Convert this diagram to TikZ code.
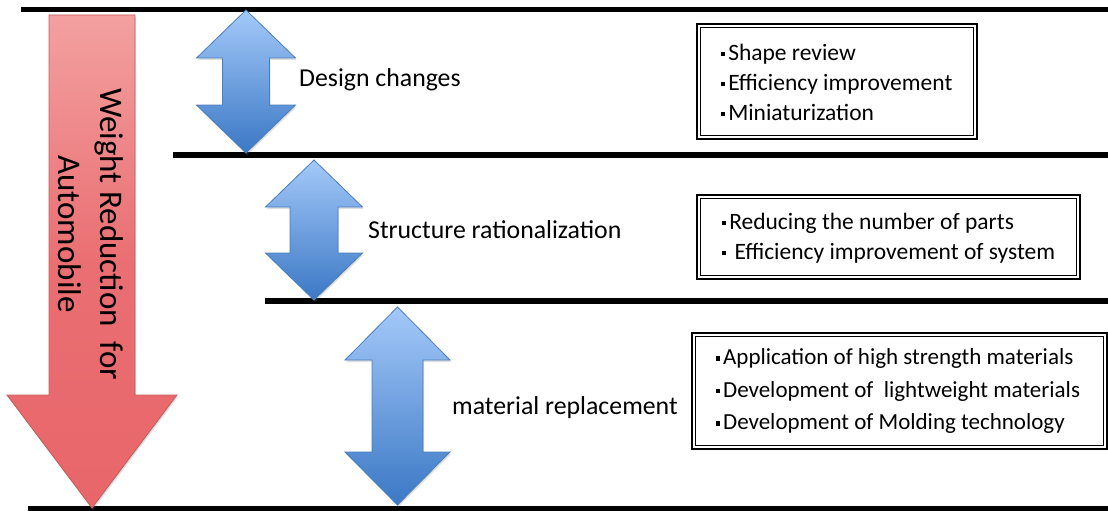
\documentclass[tikz,border=0pt]{standalone}
\usepackage{fontspec}
\setmainfont{Carlito}
\usetikzlibrary{shadows}
\definecolor{bluetop}{HTML}{A4C9F9}
\definecolor{bluebot}{HTML}{3B78C5}
\definecolor{blueedge}{HTML}{4A7EBB}
\definecolor{redtop}{HTML}{F3A0A0}
\definecolor{redbot}{HTML}{E8666A}
\definecolor{rededge}{HTML}{C0605E}
\newcommand{\bul}{\rule[0.17em]{0.18em}{0.18em}\hspace{0.12em}}
\newcommand{\dblarrow}[6]{% cx, top, bottom, headhalf, shafthalf, headh
  \path[bluearr] (#1,#2) -- (#1+#4,#2+#6) -- (#1+#5,#2+#6) -- (#1+#5,#3-#6)
    -- (#1+#4,#3-#6) -- (#1,#3) -- (#1-#4,#3-#6) -- (#1-#5,#3-#6)
    -- (#1-#5,#2+#6) -- (#1-#4,#2+#6) -- cycle;}
\begin{document}
\begin{tikzpicture}[x=1pt,y=-1pt,
  rulel/.style={line width=5.5pt,black},
  bluearr/.style={draw=blueedge,line width=0.8pt,top color=bluetop,bottom color=bluebot,
    drop shadow={opacity=0.25,shadow xshift=1pt,shadow yshift=-2pt}},
  redarr/.style={draw=rededge,line width=0.8pt,top color=redtop,bottom color=redbot,middle color=redbot!85!redtop,
    drop shadow={opacity=0.25,shadow xshift=1pt,shadow yshift=-2pt}},
  lbl/.style={anchor=west,inner sep=0pt,font=\fontsize{25.8}{30}\selectfont},
  boxtxt/.style={anchor=west,inner sep=0pt,align=left,font=\fontsize{23.5}{30}\selectfont},
  dbox/.style={draw,line width=2.2pt,inner sep=0pt}]
\useasboundingbox (0,0) rectangle (1108,511);
% horizontal rules
\draw[rulel] (21,9.5) -- (1108,9.5);
\draw[rulel] (173,155) -- (1108,155);
\draw[rulel] (265,301) -- (1108,301);
\draw[rulel] (28,508.5) -- (1108,508.5);
% red arrow
\path[redarr] (49,15) -- (135,15) -- (135,395) -- (177,395) -- (92,508) -- (7,395) -- (49,395) -- cycle;
\node[rotate=-90,align=center,font=\fontsize{33}{42}\selectfont] (wr) at (91,234)
  {Weight Reduction\ \ for\\Automobile};
% blue arrows
\dblarrow{246}{10}{153}{49.5}{23.5}{48}
\dblarrow{314}{160}{300}{48.5}{24}{47}
\dblarrow{397.5}{307}{505}{52.5}{25.5}{53}
% labels
\node[lbl] (l1) at (299,80) {Design changes};
\node[lbl] (l2) at (368,230) {Structure rationalization};
\node[lbl] (l3) at (452,408) {material replacement};
% boxes
\node[dbox,minimum width=280pt,minimum height=115pt] (b1) at (837,81.5) {};
\draw[line width=1.1pt] ([xshift=4.5pt,yshift=-4.5pt]b1.north west) rectangle ([xshift=-4.5pt,yshift=4.5pt]b1.south east);
\node[dbox,minimum width=383pt,minimum height=84pt] (b2) at (888.5,237) {};
\draw[line width=1.1pt] ([xshift=4.5pt,yshift=-4.5pt]b2.north west) rectangle ([xshift=-4.5pt,yshift=4.5pt]b2.south east);
\node[dbox,minimum width=415pt,minimum height=116pt] (b3) at (899.5,391) {};
\draw[line width=1.1pt] ([xshift=4.5pt,yshift=-4.5pt]b3.north west) rectangle ([xshift=-4.5pt,yshift=4.5pt]b3.south east);
\node[boxtxt] (t1) at (721,82) {\bul Shape review\\\bul Efficiency improvement\\\bul Miniaturization};
\node[boxtxt] (t2) at (722,238) {\bul Reducing the number of parts\\\bul\ Efficiency improvement of system};
\node[boxtxt,font=\fontsize{23}{32.5}\selectfont] (t3) at (716,391) {\bul Application of high strength materials\\\bul Development of\ \ lightweight materials\\\bul Development of Molding technology};
\end{tikzpicture}
\end{document}
